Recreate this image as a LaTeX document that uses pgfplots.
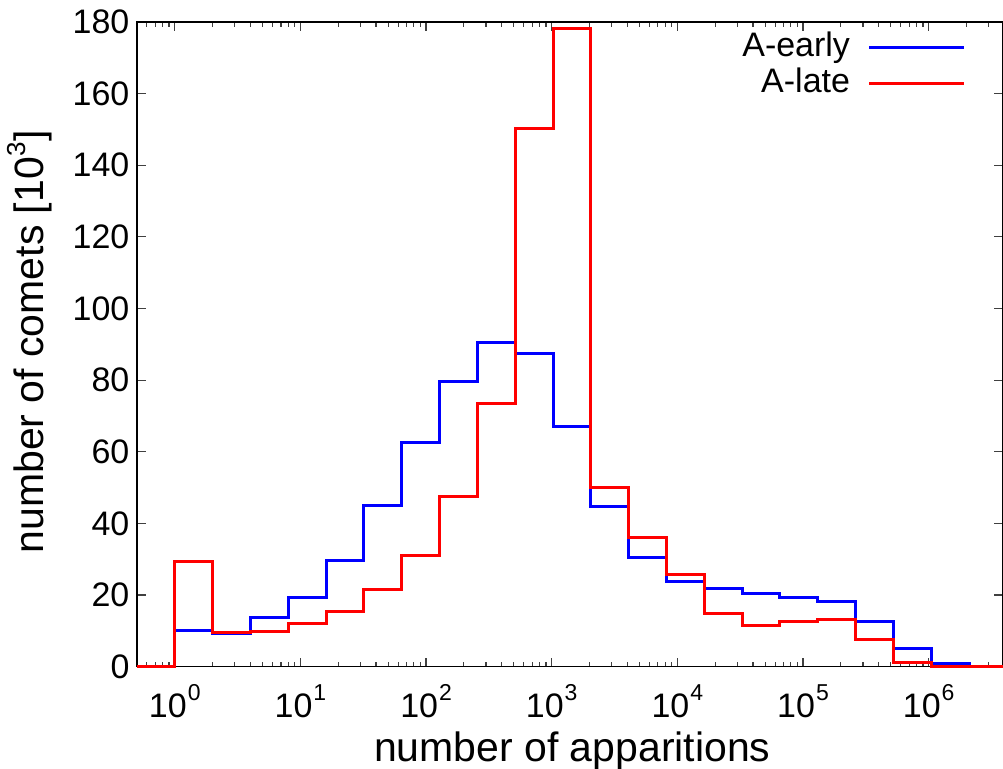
\documentclass[border=0pt]{standalone}
\usepackage{fontspec}
\setmainfont{Liberation Sans}
\usepackage{pgfplots}
\pgfplotsset{compat=1.18}
\definecolor{gblue}{RGB}{0,0,255}
\definecolor{gred}{RGB}{255,0,0}
\newcommand{\tpow}[1]{10\hspace{1pt}\raisebox{17pt}{\fontsize{23}{25}\selectfont #1}}
\begin{document}
\begin{tikzpicture}
\begin{axis}[
  scale only axis, width=866pt, height=645pt,
  xmode=log, xmin=0.5, xmax=3.87e6, ymin=0, ymax=180,
  clip=false,
  ytick={0,20,...,180},
  xtick={1,10,100,1000,10000,100000,1000000},
  xticklabels={\tpow{0},\tpow{1},\tpow{2},\tpow{3},\tpow{4},\tpow{5},\tpow{6}},
  minor xtick={0.6,0.7,0.8,0.9,2,3,4,5,6,7,8,9,20,30,40,50,60,70,80,90,200,300,400,500,600,700,800,900,2000,3000,4000,5000,6000,7000,8000,9000,2e4,3e4,4e4,5e4,6e4,7e4,8e4,9e4,2e5,3e5,4e5,5e5,6e5,7e5,8e5,9e5,2e6,3e6},
  /pgf/number format/assume math mode=true,
  tick label style={font=\fontsize{34}{40}\selectfont},
  xticklabel style={anchor=base, yshift=-51pt},
  yticklabel style={anchor=east, xshift=-4pt},
  major tick length=9pt, minor tick length=5pt,
  tick style={black!75, line width=1.2pt},
  axis line style={line width=1.4pt},
  xlabel={number of apparitions},
  ylabel={number of comets [10\hspace{1pt}\raisebox{18pt}{\fontsize{26}{28}\selectfont 3}]},
  label style={font=\fontsize{41}{48}\selectfont},
  xlabel style={at={(axis description cs:0.503,-0.1473)}, anchor=base},
  ylabel style={at={(axis description cs:-0.1085,0.504)}, anchor=base},
  legend style={draw=none, fill=none, at={(axis description cs:0.958,0.988)}, anchor=north east,
    font=\fontsize{34}{40}\selectfont, inner sep=0pt, row sep=0pt, column sep=16pt,
    nodes={inner sep=2pt, text height=25pt, text depth=7pt}},
  legend cell align=right,
  legend plot pos=right,
  legend image code/.code={\draw[#1] (0pt,0pt) -- (95pt,0pt);},
]
\addplot[const plot, gblue, line width=3pt] coordinates {
(0.5,0) (1,10.0) (2,9.2) (4,13.6) (8,19.4) (16,29.7) (32,45.1) (64,62.7) (128,79.6) (256,90.6) (512,87.5) (1024,67.1) (2048,44.6) (4096,30.5) (8192,23.9) (16384,21.7) (32768,20.4) (65536,19.4) (131072,18.1) (262144,12.7) (524288,5.0) (1048576,0.75) (2097152,0) (3870000,0)
};
\addlegendentry{A-early}
\addplot[const plot, gred, line width=3pt] coordinates {
(0.5,0) (1,29.4) (2,9.6) (4,9.8) (8,12.0) (16,15.3) (32,21.5) (64,31.0) (128,47.5) (256,73.6) (512,150.2) (1024,178.1) (2048,50.1) (4096,36.2) (8192,25.6) (16384,14.8) (32768,11.5) (65536,12.6) (131072,13.3) (262144,7.7) (524288,1.3) (1048576,0.15) (2097152,0) (3870000,0)
};
\addlegendentry{A-late}
\end{axis}
\pgfresetboundingbox
\path[use as bounding box] (-137pt,-102pt) rectangle (866.5pt,667pt);
\end{tikzpicture}
\end{document}
